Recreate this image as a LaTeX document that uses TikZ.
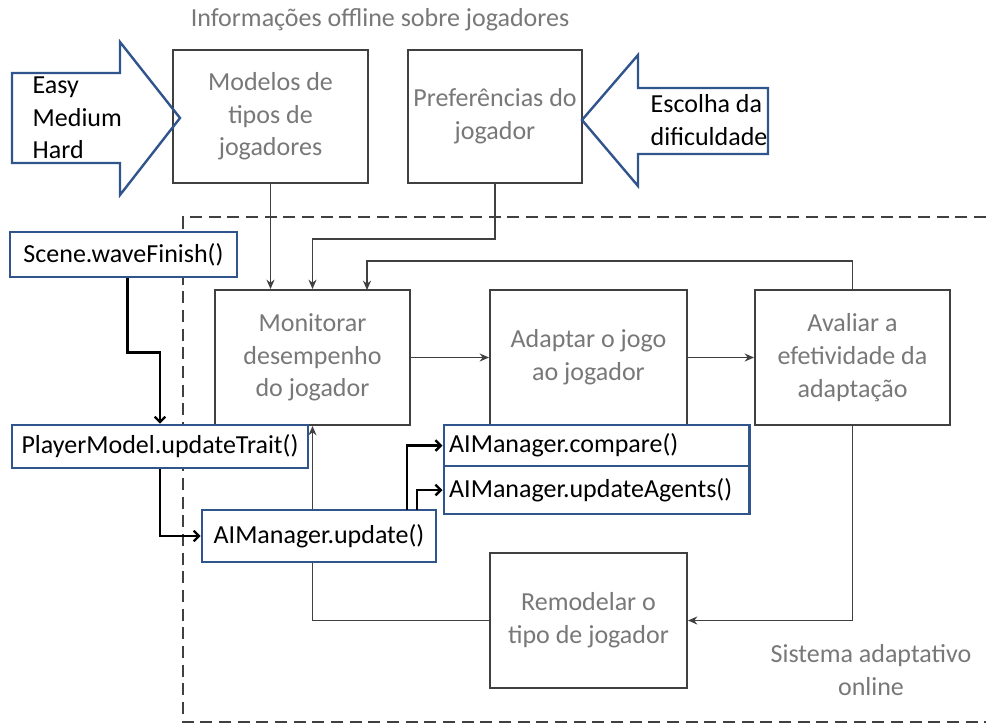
\documentclass[tikz,border=0pt]{standalone}
\usepackage{fontspec}
\setmainfont{Carlito}
\usetikzlibrary{arrows.meta}
\definecolor{boxline}{RGB}{64,64,64}
\definecolor{greytext}{RGB}{120,120,120}
\definecolor{codeblue}{RGB}{47,85,140}

\begin{document}
\begin{tikzpicture}[x=0.75pt, y=-0.75pt, font=\fontsize{19.5}{24.5}\selectfont]
    \tikzstyle{phase}=[draw=boxline, line width=1.5pt, fill=white, text=greytext, align=center, minimum width=146.25pt, minimum height=101.25pt]
    \tikzstyle{call}=[draw=codeblue, line width=2pt, fill=white, text=black, inner xsep=4pt, inner ysep=0pt]
    \tikzstyle{flow}=[draw=boxline, line width=1.3pt, -{Stealth[length=7pt,width=6pt]}]
    \tikzstyle{callflow}=[draw=black, line width=1.8pt, -{Straight Barb[length=4pt,width=8pt]}]
    \tikzstyle{hint}=[draw=codeblue, line width=1.8pt]

    \useasboundingbox (0,0) rectangle (986,728);

    % online part
    \draw[boxline, line width=1.5pt, dash pattern=on 9pt off 5pt] (986,217) -- (183,217) -- (183,722) -- (986,722);

    \node[text=greytext] (offline) at (380,20) {Informações offline sobre jogadores};
    \node[phase, minimum height=99.75pt] (modelos) at (270.5,116.5) {Modelos de\\tipos de\\jogadores};
    \node[phase, minimum width=130.5pt, minimum height=99.75pt] (pref) at (495,116.5) {Preferências do\\jogador};

    \node[phase] (monitorar) at (312.5,357.5) {Monitorar\\desempenho\\do jogador};
    \node[phase, minimum width=147.75pt] (adaptar) at (588.5,357.5) {Adaptar o jogo\\ao jogador};
    \node[phase] (avaliar) at (852.5,357.5) {Avaliar a\\efetividade da\\adaptação};
    \node[phase, minimum width=147.75pt] (remodelar) at (588.5,620.5) {Remodelar o\\tipo de jogador};
    \node[text=greytext, align=center] (online) at (871,670) {Sistema adaptativo\\online};

    \coordinate (inC) at (367,290);

    \draw[flow] (modelos.south) -- (modelos.south |- monitorar.north);
    \draw[flow] (pref.south) -- ++(0,55) -| (monitorar.north);
    \draw[flow] (avaliar.north) -- ++(0,-28) -| (inC);
    \draw[flow] (monitorar.east) -- (adaptar.west);
    \draw[flow] (adaptar.east) -- (avaliar.west);
    \draw[flow] (avaliar.south) |- (remodelar.east);
    \draw[flow] (remodelar.west) -| (monitorar.south);

    % input arrows
    \draw[hint] (12,73) -- (120,73) -- (120,42) -- (180,118) -- (120,195) -- (120,163) -- (12,163) -- cycle;
    \node[anchor=west, align=left] (levels) at (28,118) {Easy\\Medium\\Hard};
    \draw[hint] (768,88) -- (638,88) -- (638,55) -- (582,120) -- (638,186) -- (638,154) -- (768,154) -- cycle;
    \node[anchor=west, align=left] (choice) at (646,120) {Escolha da\\dificuldade};

    % code calls
    \node[call, minimum width=170.25pt, minimum height=33.75pt] (scene) at (123.5,254.5) {Scene.waveFinish()};
    \node[call, minimum width=222pt, minimum height=32.25pt] (player) at (160,446.5) {PlayerModel.updateTrait()};
    \node[call, minimum width=175.5pt, minimum height=39pt] (update) at (319,536) {AIManager.update()};
    \node[call, text width=221pt, minimum height=30.75pt] (compare) at (596.5,445.5) {AIManager.compare()};
    \node[call, text width=221pt, minimum height=36pt] (agents) at (596.5,490) {AIManager.updateAgents()};

    \coordinate (upA) at (407,510);
    \coordinate (upB) at (417,510);

    \draw[callflow] ([xshift=3pt]scene.south) -- ++(0,74) -| (player.north);
    \draw[callflow] (player.south) |- (update.west);
    \draw[callflow] (upA) |- (compare.west);
    \draw[callflow] (upB) |- (agents.west);

\end{tikzpicture}
\end{document}
